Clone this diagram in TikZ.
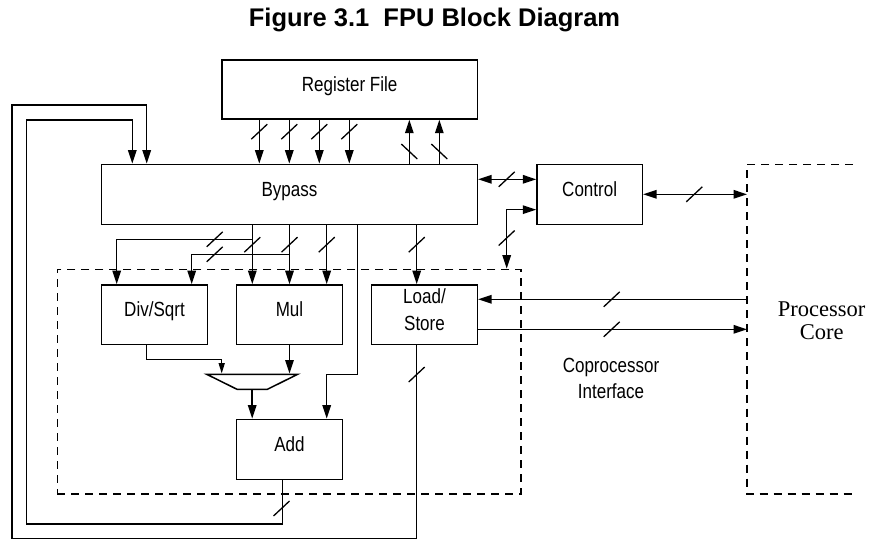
\documentclass[tikz,border=0pt]{standalone}
\usepackage{fontspec}
\setmainfont{Liberation Sans}[FakeStretch=0.83]
\newfontfamily\titlefont{Liberation Sans}
\newfontfamily\corefont{Liberation Serif}
\usetikzlibrary{arrows.meta,shapes.geometric}
\newcommand\lblfont{\fontsize{20.5}{26.5}\selectfont}
\begin{document}
\begin{tikzpicture}[x=1pt,y=-1pt,line width=1.5pt,
  box/.style={draw,rectangle,inner sep=0pt,minimum width=105.6pt,minimum height=59.5pt,
    font=\lblfont,text height=10pt,text depth=5.4pt},
  arr/.style={-{Triangle[length=13.5pt,width=8.5pt]}},
  sarr/.style={-{Triangle[length=10.5pt,width=6pt]}},
  darr/.style={{Triangle[length=13.5pt,width=8.5pt]}-{Triangle[length=13.5pt,width=8.5pt]}},
  dashbox/.style={dash pattern=on 8pt off 6pt},
  bus/.pic={\draw[line width=1.3pt] (-8,7.5) -- (8,-7.5);},
  rbus/.pic={\draw[line width=1.3pt] (-8,-7.5) -- (8,7.5);}]
\fill[white] (0,0) rectangle (871,540);
\useasboundingbox (0,0) rectangle (871,540);

% title
\node[font=\titlefont\bfseries\fontsize{25.5}{30}\selectfont,anchor=base,inner sep=0pt] (T) at (434.5,26.7) {Figure 3.1~~FPU Block Diagram};

% dashed regions
\node[draw,dashbox,rectangle,minimum width=463.7pt,minimum height=224.7pt,inner sep=0pt] (FPU) at (289.15,381.65) {};
\node[rectangle,minimum width=149pt,minimum height=329.5pt,inner sep=0pt,outer sep=0pt] (CORE) at (821.5,329.25) {};
\draw[dashbox] (853,164.5) -- (CORE.north west) -- (CORE.south west) -- (853,494);

% blocks
\node[box,minimum width=255.3pt,minimum height=59pt] (RF) at (349.65,89.5) {Register File};
\node[box,minimum width=375.6pt,minimum height=60pt] (BY) at (289.5,194.3) {Bypass};
\node[box,minimum width=105.3pt,minimum height=60pt] (CT) at (589.65,194.3) {Control};
\node[box] (DS) at (154.5,314.65) {Div/Sqrt};
\node[box] (MU) at (289.5,314.65) {Mul};
\node[box,align=center,text height=,text depth=10.5pt] (LS) at (424.5,314.65) {Load/\\Store};
\node[box,minimum height=60pt] (AD) at (289.5,449.3) {Add};
\node[draw,trapezium,shape border rotate=180,trapezium left angle=45,trapezium right angle=45,
  trapezium stretches=true,minimum width=91pt,minimum height=15pt,inner sep=1pt] (MX) at (252.2,381.8) {};

% labels
\node[font=\corefont\fontsize{22.5}{23.3}\selectfont,align=center,anchor=north,inner sep=0pt] (CL) at (821.7,301.1) {Processor\\Core};
\node[font=\lblfont,align=center,anchor=north,inner sep=0pt] (CI) at (611,357.2) {Coprocessor\\Interface};

% register file <-> bypass
\foreach \x in {259.3,289.3,319.3,349.3} {
  \draw[arr] (RF.south -| \x,0) -- (BY.north -| \x,0);
  \pic at (\x,131.7) {bus};
}
\foreach \x in {409.3,439.3} {
  \draw[arr] (BY.north -| \x,0) -- (RF.south -| \x,0);
  \pic at (\x,151.5) {rbus};
}

% feedback loops
\draw[arr] (LS.south -| 416.7,0) -- (416.7,538.5) -| (12,105) -| (BY.north -| 146.7,0);
\draw[arr] (AD.south -| 282.3,0) -- (282.3,524) -| (26.7,120) -| (BY.north -| 132.3,0);
\pic at (281.5,508.5) {bus};
\pic at (416.7,374.5) {bus};

% bypass -> units
\draw[arr] (BY.south -| 252.3,0) |- (116.7,239.3) -- (DS.north -| 116.7,0);
\draw[arr] (BY.south -| 252.3,0) -- (MU.north -| 252.3,0);
\draw[arr] (BY.south) |- (191.7,254.3) -- (DS.north -| 191.7,0);
\draw[arr] (BY.south) -- (MU.north);
\draw[arr] (BY.south -| 326.7,0) -- (MU.north -| 326.7,0);
\draw[arr] (BY.south -| 357.3,0) |- (326.7,374.3) -- (AD.north -| 326.7,0);
\draw[arr] (BY.south -| 416.7,0) -- (LS.north -| 416.7,0);
\pic at (214.7,239.3) {bus};
\pic at (214.7,254.3) {bus};
\pic at (252.3,244.7) {bus};
\pic at (289.5,244.7) {bus};
\pic at (326.7,244.7) {bus};
\pic at (416.7,244.7) {bus};

% mux
\draw[sarr] (DS.south -| 146.7,0) |- (221.7,359.3) -- (MX.north -| 221.7,0);
\draw[arr] (MU.south) -- (MX.north -| MU.south);
\draw[arr] (MX.south) -- (AD.north -| MX.south);

% control
\draw[darr] (BY.east |- 0,179.3) -- (CT.west |- 0,179.3);
\pic at (506.7,179.3) {bus};
\draw[darr] (CT.west |- 0,209.7) -| (FPU.north -| 506.7,0);
\pic at (506.7,238) {bus};
\draw[darr] (CT.east) -- (CT.east -| CORE.west);
\pic at (694.3,194.3) {bus};

% coprocessor interface
\draw[arr] (CORE.west |- 0,299.3) -- (LS.east |- 0,299.3);
\pic at (611.7,299.3) {bus};
\draw[arr] (LS.east |- 0,329.3) -- (CORE.west |- 0,329.3);
\pic at (611.7,329.3) {bus};
\end{tikzpicture}
\end{document}
